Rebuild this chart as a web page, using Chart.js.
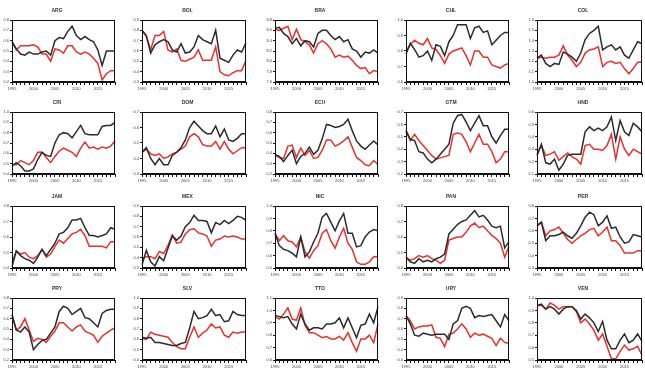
<!DOCTYPE html>
<html>
<head>
<meta charset="utf-8">
<script src="https://cdn.jsdelivr.net/npm/chart.js@4"></script>
<style>
  body { margin: 0; background: #fff; }
  #grid { position: relative; width: 645px; height: 377px; background: #fff; }
  #grid canvas { position: absolute; }
</style>
</head>
<body>
<div id="grid"></div>
<script>
const years = ["1995","1996","1997","1998","1999","2000","2001","2002","2003","2004","2005","2006","2007",
  "2008","2009","2010","2011","2012","2013","2014","2015","2016","2017","2018","2019"];

const countries = ["ARG","BOL","BRA","CHL","COL","CRI","DOM","ECU","GTM","HND",
  "JAM","MEX","NIC","PAN","PER","PRY","SLV","TTO","URY","VEN"];

// y axis range for each panel (same order as countries)
const yMin  = [0.2, 0.3, 7.6, 0.6, 1.0, 0.4, 0.3, 0.2, 0.2, 0.1, 0.4, 0.3, 0.5, 0.4, 0.3, 0.2, 0.4, 0.6, 0.3, 0.5];
const yMax  = [0.8, 0.9, 8.8, 1.0, 1.6, 1.0, 0.7, 0.8, 0.7, 0.6, 0.8, 0.9, 1.0, 0.8, 0.8, 0.8, 1.0, 1.1, 0.9, 1.0];
const yStep = [0.1, 0.1, 0.2, 0.1, 0.1, 0.1, 0.1, 0.1, 0.1, 0.1, 0.1, 0.1, 0.1, 0.1, 0.1, 0.1, 0.1, 0.1, 0.1, 0.1];

// black series / red series per country
const ARG_dark = [0.59,0.52,0.47,0.46,0.49,0.47,0.47,0.49,0.50,0.46,0.60,0.63,0.62,0.69,0.74,0.65,0.61,0.64,0.61,0.59,0.51,0.36,0.50,0.50,0.50];
const ARG_red  = [0.59,0.51,0.55,0.55,0.55,0.56,0.54,0.47,0.47,0.40,0.52,0.51,0.48,0.55,0.55,0.49,0.47,0.49,0.47,0.43,0.38,0.22,0.28,0.31,0.31];
const BOL_dark = [0.80,0.75,0.58,0.66,0.69,0.71,0.69,0.61,0.59,0.67,0.58,0.59,0.64,0.75,0.71,0.69,0.67,0.80,0.53,0.51,0.49,0.56,0.61,0.59,0.68];
const BOL_red  = [0.80,0.74,0.61,0.75,0.75,0.79,0.61,0.59,0.62,0.51,0.50,0.52,0.54,0.61,0.51,0.51,0.51,0.64,0.40,0.37,0.36,0.39,0.41,0.41,0.51];
const BRA_dark = [8.64,8.66,8.54,8.48,8.34,8.44,8.30,8.40,8.38,8.28,8.54,8.60,8.60,8.50,8.42,8.48,8.38,8.42,8.24,8.20,8.08,8.18,8.16,8.22,8.16];
const BRA_red  = [8.62,8.60,8.64,8.68,8.42,8.62,8.42,8.38,8.32,8.16,8.34,8.40,8.34,8.24,8.08,8.12,8.08,8.10,8.02,7.92,7.86,7.88,7.76,7.82,7.80];
const CHL_dark = [0.78,0.85,0.81,0.76,0.77,0.80,0.74,0.84,0.83,0.77,0.86,0.90,0.97,0.97,0.97,0.88,0.95,0.96,0.92,0.93,0.84,0.87,0.90,0.92,0.92];
const CHL_red  = [0.80,0.84,0.87,0.85,0.84,0.88,0.82,0.81,0.77,0.72,0.78,0.80,0.81,0.82,0.77,0.71,0.80,0.80,0.76,0.76,0.71,0.70,0.69,0.71,0.72];
const COL_dark = [1.23,1.26,1.18,1.15,1.18,1.17,1.29,1.27,1.24,1.20,1.28,1.41,1.47,1.50,1.54,1.31,1.34,1.36,1.31,1.34,1.26,1.23,1.31,1.39,1.37];
const COL_red  = [1.23,1.24,1.23,1.24,1.24,1.26,1.35,1.26,1.21,1.15,1.19,1.28,1.31,1.32,1.34,1.15,1.19,1.20,1.18,1.19,1.13,1.08,1.13,1.19,1.19];
const CRI_dark = [0.48,0.51,0.48,0.43,0.43,0.45,0.54,0.61,0.58,0.57,0.70,0.78,0.80,0.79,0.75,0.81,0.87,0.79,0.78,0.78,0.78,0.86,0.87,0.87,0.90];
const CRI_red  = [0.49,0.49,0.53,0.51,0.49,0.53,0.61,0.61,0.56,0.51,0.57,0.62,0.65,0.63,0.61,0.57,0.65,0.71,0.65,0.66,0.64,0.66,0.65,0.67,0.72];
const DOM_dark = [0.44,0.47,0.40,0.36,0.40,0.36,0.36,0.42,0.44,0.47,0.52,0.60,0.64,0.61,0.58,0.56,0.56,0.61,0.54,0.59,0.52,0.51,0.53,0.56,0.56];
const DOM_red  = [0.44,0.46,0.43,0.42,0.43,0.40,0.41,0.43,0.44,0.46,0.48,0.54,0.56,0.54,0.49,0.48,0.48,0.51,0.46,0.51,0.46,0.43,0.45,0.47,0.47];
const ECU_dark = [0.39,0.37,0.32,0.38,0.43,0.30,0.37,0.40,0.46,0.39,0.43,0.54,0.68,0.67,0.65,0.66,0.68,0.73,0.62,0.52,0.47,0.44,0.48,0.52,0.48];
const ECU_red  = [0.38,0.36,0.35,0.47,0.48,0.36,0.45,0.38,0.43,0.35,0.36,0.43,0.53,0.53,0.47,0.49,0.52,0.56,0.46,0.36,0.33,0.29,0.28,0.33,0.29];
const GTM_dark = [0.55,0.48,0.47,0.38,0.37,0.32,0.29,0.32,0.36,0.40,0.44,0.61,0.67,0.68,0.62,0.55,0.61,0.67,0.59,0.59,0.50,0.45,0.51,0.56,0.56];
const GTM_red  = [0.55,0.47,0.52,0.47,0.43,0.39,0.35,0.32,0.33,0.34,0.35,0.52,0.53,0.52,0.46,0.38,0.45,0.52,0.44,0.44,0.38,0.29,0.32,0.38,0.38];
const HND_dark = [0.25,0.34,0.19,0.18,0.22,0.13,0.18,0.25,0.26,0.26,0.26,0.44,0.48,0.45,0.47,0.45,0.48,0.56,0.37,0.53,0.44,0.41,0.51,0.48,0.44];
const HND_red  = [0.26,0.33,0.25,0.26,0.28,0.21,0.24,0.27,0.24,0.22,0.18,0.33,0.34,0.30,0.30,0.29,0.33,0.42,0.22,0.40,0.30,0.25,0.30,0.28,0.26];
const JAM_dark = [0.41,0.51,0.48,0.46,0.45,0.43,0.47,0.52,0.48,0.52,0.56,0.62,0.63,0.66,0.71,0.71,0.72,0.66,0.61,0.61,0.60,0.61,0.62,0.66,0.65];
const JAM_red  = [0.43,0.51,0.49,0.50,0.47,0.46,0.48,0.52,0.47,0.49,0.54,0.58,0.56,0.59,0.62,0.63,0.65,0.61,0.54,0.54,0.54,0.54,0.53,0.57,0.57];
const MEX_dark = [0.33,0.47,0.36,0.32,0.41,0.37,0.49,0.61,0.57,0.61,0.70,0.74,0.81,0.76,0.76,0.75,0.64,0.74,0.72,0.76,0.73,0.76,0.80,0.79,0.76];
const MEX_red  = [0.39,0.41,0.41,0.39,0.46,0.44,0.52,0.62,0.54,0.55,0.63,0.67,0.68,0.64,0.63,0.61,0.51,0.57,0.58,0.61,0.60,0.61,0.60,0.58,0.58];
const NIC_dark = [0.78,0.68,0.65,0.64,0.62,0.59,0.75,0.59,0.63,0.71,0.78,0.91,0.94,0.87,0.80,0.88,0.94,0.78,0.78,0.67,0.68,0.75,0.79,0.81,0.80];
const NIC_red  = [0.78,0.72,0.76,0.72,0.71,0.67,0.75,0.63,0.58,0.64,0.68,0.78,0.81,0.72,0.66,0.75,0.82,0.70,0.65,0.55,0.53,0.53,0.55,0.59,0.59];
const PAN_dark = [0.47,0.44,0.43,0.46,0.44,0.45,0.44,0.46,0.47,0.49,0.62,0.65,0.68,0.70,0.71,0.74,0.77,0.73,0.74,0.71,0.67,0.66,0.67,0.53,0.57];
const PAN_red  = [0.47,0.45,0.46,0.48,0.47,0.48,0.46,0.45,0.43,0.45,0.58,0.59,0.60,0.60,0.63,0.67,0.69,0.66,0.67,0.64,0.61,0.59,0.56,0.47,0.54];
const PER_dark = [0.64,0.67,0.52,0.56,0.56,0.57,0.59,0.56,0.54,0.58,0.64,0.71,0.75,0.73,0.64,0.67,0.72,0.62,0.63,0.55,0.50,0.51,0.57,0.56,0.55];
const PER_red  = [0.64,0.67,0.56,0.60,0.61,0.63,0.58,0.53,0.50,0.53,0.56,0.58,0.61,0.62,0.56,0.59,0.63,0.52,0.52,0.48,0.42,0.42,0.42,0.44,0.44];
const PRY_dark = [0.64,0.49,0.47,0.52,0.47,0.30,0.35,0.39,0.40,0.46,0.52,0.67,0.72,0.70,0.64,0.67,0.70,0.61,0.60,0.56,0.52,0.65,0.68,0.69,0.69];
const PRY_red  = [0.63,0.49,0.52,0.60,0.49,0.38,0.41,0.40,0.37,0.43,0.48,0.56,0.56,0.52,0.48,0.52,0.54,0.48,0.46,0.44,0.37,0.43,0.46,0.49,0.51];
const SLV_dark = [0.62,0.61,0.62,0.57,0.57,0.56,0.55,0.54,0.54,0.56,0.57,0.71,0.87,0.80,0.81,0.83,0.89,0.83,0.84,0.77,0.78,0.87,0.84,0.83,0.83];
const SLV_red  = [0.61,0.60,0.67,0.65,0.64,0.63,0.62,0.57,0.53,0.51,0.51,0.62,0.72,0.62,0.66,0.69,0.75,0.71,0.72,0.64,0.62,0.67,0.66,0.67,0.67];
const TTO_dark = [0.96,0.95,0.94,0.95,0.89,0.85,0.97,0.89,0.84,0.86,0.86,0.85,0.89,0.89,0.90,0.94,0.86,0.94,0.86,0.78,0.88,0.89,0.97,0.90,1.03];
const TTO_red  = [0.95,0.93,0.97,1.02,0.93,0.92,1.02,0.88,0.82,0.82,0.80,0.78,0.79,0.77,0.77,0.79,0.76,0.82,0.74,0.67,0.77,0.77,0.80,0.74,0.89];
const URY_dark = [0.73,0.65,0.54,0.53,0.56,0.55,0.54,0.55,0.55,0.55,0.50,0.65,0.68,0.80,0.82,0.80,0.71,0.73,0.72,0.73,0.74,0.68,0.62,0.74,0.68];
const URY_red  = [0.73,0.68,0.60,0.62,0.63,0.63,0.64,0.52,0.51,0.43,0.55,0.56,0.60,0.65,0.60,0.52,0.56,0.54,0.55,0.53,0.51,0.44,0.51,0.47,0.46];
const VEN_dark = [0.94,0.95,0.91,0.93,0.91,0.87,0.91,0.93,0.93,0.90,0.83,0.87,0.84,0.80,0.73,0.81,0.66,0.59,0.59,0.66,0.71,0.64,0.66,0.71,0.65];
const VEN_red  = [0.94,0.94,0.91,0.96,0.94,0.91,0.93,0.93,0.93,0.89,0.80,0.83,0.79,0.74,0.66,0.71,0.61,0.51,0.51,0.57,0.62,0.58,0.59,0.61,0.54];

const darkSeries = [ARG_dark,BOL_dark,BRA_dark,CHL_dark,COL_dark,CRI_dark,DOM_dark,ECU_dark,GTM_dark,HND_dark,
  JAM_dark,MEX_dark,NIC_dark,PAN_dark,PER_dark,PRY_dark,SLV_dark,TTO_dark,URY_dark,VEN_dark];
const redSeries = [ARG_red,BOL_red,BRA_red,CHL_red,COL_red,CRI_red,DOM_red,ECU_red,GTM_red,HND_red,
  JAM_red,MEX_red,NIC_red,PAN_red,PER_red,PRY_red,SLV_red,TTO_red,URY_red,VEN_red];

// panel geometry (plot area in page pixels)
const colLeft = [12, 142, 275, 406, 537];
const colWidth = [103, 104, 103, 103, 105];
const rowTop = [20, 112, 206, 298];
const plotH = 62;
const padL = 13, padT = 18, padB = 10, padR = 2;

// closes the box round the plot area
const framePlugin = {
  id: "frame",
  afterDraw(chart) {
    const a = chart.chartArea, ctx = chart.ctx;
    ctx.save();
    ctx.strokeStyle = "#111";
    ctx.lineWidth = 1;
    ctx.strokeRect(Math.round(a.left) + 0.5, Math.round(a.top) + 0.5,
      Math.round(a.right - a.left) - 1, Math.round(a.bottom - a.top) - 1);
    ctx.restore();
  }
};

const grid = document.getElementById("grid");

countries.forEach((name, i) => {
  const r = Math.floor(i / 5), c = i % 5;
  const canvas = document.createElement("canvas");
  const w = colWidth[c] + padL + padR, h = plotH + padT + padB;
  canvas.width = w;
  canvas.height = h;
  canvas.style.left = (colLeft[c] - padL) + "px";
  canvas.style.top = (rowTop[r] - padT) + "px";
  canvas.style.width = w + "px";
  canvas.style.height = h + "px";
  grid.appendChild(canvas);

  new Chart(canvas.getContext("2d"), {
    type: "line",
    data: {
      labels: years,
      datasets: [
        { data: darkSeries[i], borderColor: "#2b2b2b", borderWidth: 1.5, pointRadius: 0, tension: 0 },
        { data: redSeries[i], borderColor: "#e8302c", borderWidth: 1.5, pointRadius: 0, tension: 0 }
      ]
    },
    options: {
      responsive: false,
      animation: false,
      devicePixelRatio: 1,
      layout: { padding: { left: 0, right: padR, top: 0, bottom: 0 } },
      plugins: {
        legend: { display: false },
        tooltip: { enabled: false },
        title: {
          display: true,
          text: name,
          color: "#333",
          font: { family: "Liberation Sans", size: 5, weight: "bold" },
          padding: { top: 6, bottom: 6 }
        }
      },
      scales: {
        x: {
          offset: false,
          afterFit: (s) => { s.height = padB; },
          grid: { drawOnChartArea: false, drawTicks: true, tickLength: 3, color: "#111", lineWidth: 1 },
          border: { display: true, color: "#111" },
          ticks: {
            autoSkip: false,
            maxRotation: 0,
            padding: 1,
            color: "#444",
            font: { family: "Liberation Sans", size: 4 },
            callback: function (v, idx) {
              const y = years[idx];
              return Number(y) % 5 === 0 ? y : "";
            }
          }
        },
        y: {
          min: yMin[i],
          max: yMax[i],
          afterFit: (s) => { s.width = padL; },
          grid: { drawOnChartArea: false, drawTicks: true, tickLength: 2, color: "#111" },
          border: { display: true, color: "#111" },
          ticks: {
            stepSize: yStep[i],
            padding: 1,
            color: "#444",
            font: { family: "Liberation Sans", size: 4 },
            callback: (v) => v.toFixed(1)
          }
        }
      }
    },
    plugins: [framePlugin]
  });
});
</script>
</body>
</html>
